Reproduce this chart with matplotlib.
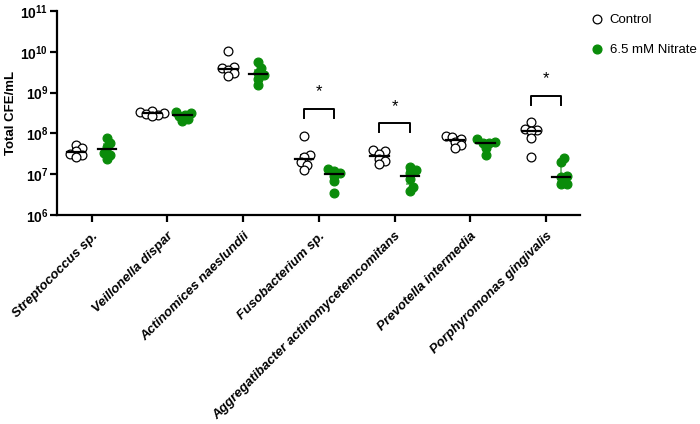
import numpy as np
import matplotlib
matplotlib.use("Agg")
import matplotlib.pyplot as plt
from matplotlib.lines import Line2D

plt.rcParams['font.family'] = ['Liberation Sans', 'DejaVu Sans']
plt.rcParams['mathtext.fontset'] = 'custom'
plt.rcParams['mathtext.bf'] = 'Liberation Sans:bold'
plt.rcParams['mathtext.rm'] = 'Liberation Sans:bold'

# 菌種
species = ["Streptococcus sp.", "Veillonella dispar", "Actinomices naeslundii",
           "Fusobacterium sp.", "Aggregatibacter actinomycetemcomitans",
           "Prevotella intermedia", "Porphyromonas gingivalis"]

# 每組 6 個點 (CFE/mL)
control = [
    [5.2e7, 4.5e7, 3.8e7, 3.2e7, 3.0e7, 2.6e7],
    [3.6e8, 3.4e8, 3.2e8, 3.0e8, 2.8e8, 2.6e8],
    [1.07e10, 4.3e9, 3.9e9, 3.5e9, 3.0e9, 2.5e9],
    [8.7e7, 3.0e7, 2.7e7, 2.0e7, 1.66e7, 1.3e7],
    [3.9e7, 3.6e7, 3.2e7, 2.4e7, 2.1e7, 1.75e7],
    [8.7e7, 8.2e7, 7.2e7, 6.3e7, 5.2e7, 4.5e7],
    [1.87e8, 1.3e8, 1.18e8, 1.14e8, 7.8e7, 2.6e7],
]
nitrate = [
    [7.8e7, 5.9e7, 4.7e7, 3.4e7, 3.0e7, 2.4e7],
    [3.3e8, 3.1e8, 2.9e8, 2.6e8, 2.3e8, 2.0e8],
    [5.6e9, 3.9e9, 3.0e9, 2.7e9, 2.2e9, 1.5e9],
    [1.33e7, 1.2e7, 1.07e7, 9.1e6, 6.9e6, 3.5e6],
    [1.5e7, 1.25e7, 1.05e7, 7.8e6, 4.9e6, 3.8e6],
    [7.2e7, 6.2e7, 5.9e7, 5.7e7, 4.5e7, 3.0e7],
    [2.5e7, 2.0e7, 9.1e6, 8.3e6, 5.9e6, 5.7e6],
]

# 顯著差異的組別 (index)
sig_groups = [3, 4, 6]

y_ticks = [1e6, 1e7, 1e8, 1e9, 1e10, 1e11]
y_tick_labels = [r"$\mathbf{10^{6}}$", r"$\mathbf{10^{7}}$", r"$\mathbf{10^{8}}$",
                 r"$\mathbf{10^{9}}$", r"$\mathbf{10^{10}}$", r"$\mathbf{10^{11}}$"]
legend_labels = ["Control", "6.5 mM Nitrate"]

green = '#0a8c0a'
light_green = '#5fb35f'

fig = plt.figure(figsize=(7, 4.24), dpi=100)
ax = fig.add_axes([0.082, 0.493, 0.747, 0.481])

ax.set_yscale('log')
ax.set_ylim(1e6, 1e11)
ax.set_xlim(-0.45, 6.45)
ax.set_yticks(y_ticks)
ax.set_yticklabels(y_tick_labels, fontsize=10)
ax.yaxis.set_minor_locator(matplotlib.ticker.NullLocator())
ax.set_xticks(range(len(species)))
ax.set_xticklabels(species, rotation=45, ha='right', rotation_mode='anchor',
                   fontsize=9.5, fontweight='bold', fontstyle='italic')
ax.set_ylabel("Total CFE/mL", fontsize=9.5, fontweight='bold', labelpad=2)

for s in ['top', 'right']:
    ax.spines[s].set_visible(False)
for s in ['left', 'bottom']:
    ax.spines[s].set_linewidth(1.6)
ax.tick_params(axis='both', width=1.6, length=5, direction='out')
ax.tick_params(axis='y', pad=1.5)
ax.tick_params(axis='x', pad=6)


def swarm(vals, center):
    # 把點左右錯開，避免重疊 (用 pixel 計算)
    px_per_x = ax.transData.transform((1, 1e8))[0] - ax.transData.transform((0, 1e8))[0]
    ys = np.array([ax.transData.transform((center, v))[1] for v in vals])
    d = 7.5
    xs = np.zeros(len(vals))
    placed = []
    for i in np.argsort(ys):
        for k in [0, 1, -1, 2, -2, 3, -3, 4, -4]:
            x = k * d * 0.4
            if all((x - px) ** 2 + (ys[i] - py) ** 2 >= (d * 0.65) ** 2 for px, py in placed):
                break
        placed.append((x, ys[i]))
        xs[i] = x
    return center + xs / px_per_x


offset = 0.2
for i in range(len(species)):
    for vals, dx, kind in [(control[i], -offset, 'c'), (nitrate[i], offset, 'n')]:
        vals = np.array(vals)
        c = i + dx
        med = np.median(vals)
        q1, q3 = np.percentile(vals, [25, 75])
        ecol = 'black' if kind == 'c' else light_green
        ax.errorbar([c], [med], yerr=[[med - q1], [q3 - med]], fmt='none',
                    ecolor=ecol, elinewidth=1.2, capsize=3, capthick=1.2, zorder=1)
        xs = swarm(vals, c)
        if kind == 'c':
            ax.scatter(xs, vals, s=40, facecolors='white', edgecolors='black',
                       linewidths=0.9, zorder=2)
        else:
            ax.scatter(xs, vals, s=40, facecolors=green, edgecolors=green,
                       linewidths=0.9, zorder=2)
        ax.plot([c - 0.12, c + 0.12], [med, med], color='black', lw=1.6, zorder=3)

# 顯著差異括號
for g in sig_groups:
    top = max(max(control[g]), max(nitrate[g]))
    leg = top * 2.7
    hi = top * 4.5
    ax.plot([g - offset, g - offset, g + offset, g + offset], [leg, hi, hi, leg],
            color='black', lw=1.4)
    ax.annotate("*", (g, hi), xytext=(0, 7), textcoords='offset points',
                ha='center', va='bottom', fontsize=12)

handles = [Line2D([], [], marker='o', ls='none', markersize=6.3, markerfacecolor='white',
                  markeredgecolor='black', markeredgewidth=0.9),
           Line2D([], [], marker='o', ls='none', markersize=6.3, markerfacecolor=green,
                  markeredgecolor=green)]
fig.legend(handles, legend_labels, loc='upper left', bbox_to_anchor=(0.826, 0.995),
           frameon=False, fontsize=9.5, labelspacing=1.35, handletextpad=0.5,
           handlelength=1.0)

fig.savefig("out.png", dpi=100)
